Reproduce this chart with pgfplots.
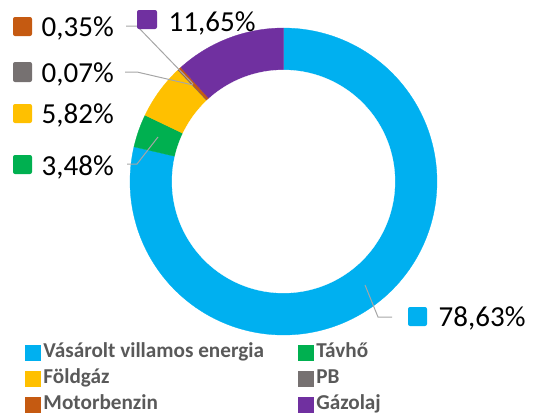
\documentclass[border=0pt]{standalone}
\usepackage{pgfplots}
\pgfplotsset{compat=1.18}
\usepackage{fontspec}
\setmainfont{Carlito}
\definecolor{cblue}{HTML}{00B0F0}
\definecolor{cgreen}{HTML}{00B050}
\definecolor{cyellow}{HTML}{FFC000}
\definecolor{cgray}{HTML}{767171}
\definecolor{corange}{HTML}{C55A11}
\definecolor{cpurple}{HTML}{7030A0}
\definecolor{lgray}{HTML}{595959}
\definecolor{lline}{HTML}{A6A6A6}
% data (percent)
\def\vA{78.63}\def\vB{3.48}\def\vC{5.82}\def\vD{0.07}\def\vE{0.35}\def\vF{11.65}
\def\cx{283.5}\def\cy{181.5}\def\ro{153.5}\def\ri{111.5}
\pgfmathsetmacro\aA{0}
\pgfmathsetmacro\aB{\aA+3.6*\vA}
\pgfmathsetmacro\aC{\aB+3.6*\vB}
\pgfmathsetmacro\aD{\aC+3.6*\vC}
\pgfmathsetmacro\aE{\aD+3.6*\vD}
\pgfmathsetmacro\aF{\aE+3.6*\vE}
\pgfmathsetmacro\aG{\aF+3.6*\vF}
\newcommand\lbl{\fontsize{29}{34}\selectfont}
\begin{document}
\begin{tikzpicture}
\begin{axis}[
  scale only axis, width=533pt, height=416pt,
  xmin=0, xmax=533, ymin=0, ymax=416, y dir=reverse,
  hide axis, clip=false,
  legend columns=2,
  legend cell align=left,
  legend image code/.code={\fill[#1] (0pt,-7.5pt) rectangle (15pt,7.5pt);},
  legend style={at={(axis cs:25,342)}, anchor=north west, draw=none, fill=none,
    inner xsep=0pt, inner ysep=0pt,
    font=\fontsize{21.2}{25}\selectfont\bfseries, text=lgray,
    row sep=6pt, column sep=3pt,
    nodes={inner sep=0pt, text height=15pt, text depth=5pt},
    /tikz/every even column/.append style={column sep=34pt}},
]
\path (axis cs:0,0) rectangle (axis cs:533,416);
\addplot[fill=cblue, draw=cblue, line width=0.3pt, domain=\aA:\aB, samples=150, variable=\t]
  ({\cx+\ro*sin(\t)},{\cy-\ro*cos(\t)}) -- (axis cs:\cx,\cy) -- cycle;
\addlegendentry{Vásárolt villamos energia}
\addplot[fill=cgreen, draw=cgreen, line width=0.3pt, domain=\aB:\aC, samples=20, variable=\t]
  ({\cx+\ro*sin(\t)},{\cy-\ro*cos(\t)}) -- (axis cs:\cx,\cy) -- cycle;
\addlegendentry{Távhő}
\addplot[fill=cyellow, draw=cyellow, line width=0.3pt, domain=\aC:\aD, samples=20, variable=\t]
  ({\cx+\ro*sin(\t)},{\cy-\ro*cos(\t)}) -- (axis cs:\cx,\cy) -- cycle;
\addlegendentry{Földgáz}
\addplot[fill=cgray, draw=cgray, line width=0.3pt, domain=\aD:\aE, samples=5, variable=\t]
  ({\cx+\ro*sin(\t)},{\cy-\ro*cos(\t)}) -- (axis cs:\cx,\cy) -- cycle;
\addlegendentry{PB}
\addplot[fill=corange, draw=corange, line width=0.3pt, domain=\aE:\aF, samples=5, variable=\t]
  ({\cx+\ro*sin(\t)},{\cy-\ro*cos(\t)}) -- (axis cs:\cx,\cy) -- cycle;
\addlegendentry{Motorbenzin}
\addplot[fill=cpurple, draw=cpurple, line width=0.3pt, domain=\aF:\aG, samples=40, variable=\t]
  ({\cx+\ro*sin(\t)},{\cy-\ro*cos(\t)}) -- (axis cs:\cx,\cy) -- cycle;
\addlegendentry{Gázolaj}
\addplot[forget plot, fill=white, draw=white, line width=0.3pt, domain=0:360, samples=180, variable=\t]
  ({\cx+\ri*sin(\t)},{\cy-\ri*cos(\t)}) -- cycle;
% leader lines
\draw[lline, line width=1pt] (axis cs:126,26) -- (axis cs:137,26) -- (axis cs:193,84);
\draw[lline, line width=1pt] (axis cs:125,72) -- (axis cs:137,72) -- (axis cs:193,85);
\draw[lline, line width=1pt] (axis cs:127,164) -- (axis cs:137,164) -- (axis cs:158,137);
\draw[lline, line width=1pt] (axis cs:365,285) -- (axis cs:378,317) -- (axis cs:392,317);
% data label keys
\fill[corange, rounded corners=2pt] (axis cs:13,17) rectangle (axis cs:32,36);
\fill[cgray, rounded corners=2pt] (axis cs:13,62) rectangle (axis cs:32,82);
\fill[cyellow, rounded corners=2pt] (axis cs:13,104) rectangle (axis cs:32,123);
\fill[cgreen, rounded corners=2pt] (axis cs:13,155) rectangle (axis cs:32,174);
\fill[cpurple, rounded corners=2pt] (axis cs:137,10) rectangle (axis cs:157,29);
\fill[cblue, rounded corners=2pt] (axis cs:408,307) rectangle (axis cs:427,326);
% data labels
\node[anchor=base west, inner sep=0pt, font=\lbl] at (axis cs:41.5,36) {0,35\%};
\node[anchor=base west, inner sep=0pt, font=\lbl] at (axis cs:41.5,82) {0,07\%};
\node[anchor=base west, inner sep=0pt, font=\lbl] at (axis cs:41.5,123) {5,82\%};
\node[anchor=base west, inner sep=0pt, font=\lbl] at (axis cs:41.5,175) {3,48\%};
\node[anchor=base west, inner sep=0pt, font=\lbl] at (axis cs:168.5,31) {11,65\%};
\node[anchor=base west, inner sep=0pt, font=\lbl] at (axis cs:438.5,326) {78,63\%};
\end{axis}
\end{tikzpicture}
\end{document}
